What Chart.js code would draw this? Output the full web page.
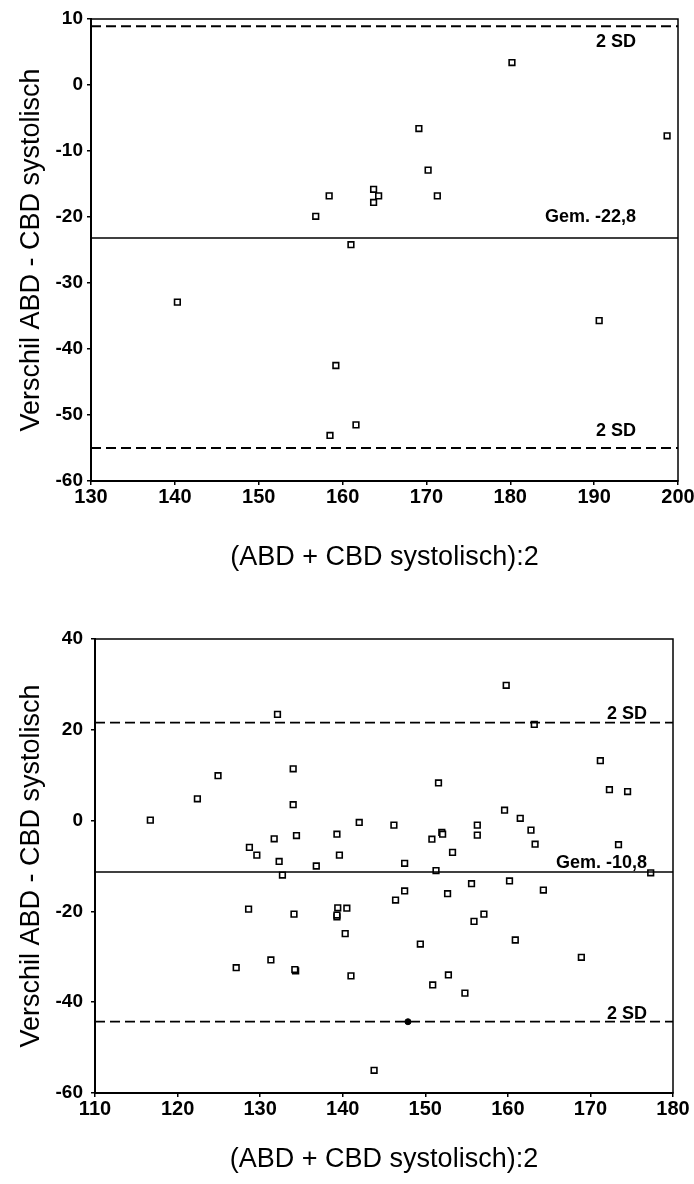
<!DOCTYPE html>
<html>
<head>
<meta charset="utf-8">
<script src="https://cdn.jsdelivr.net/npm/chart.js@4.4.1/dist/chart.umd.min.js"></script>
<style>
  body { margin: 0; background: #fff; }
  canvas { position: absolute; left: 0; }
</style>
</head>
<body>
<canvas id="chartTop" width="694" height="592" style="top:0"></canvas>
<canvas id="chartBottom" width="694" height="592" style="top:592px"></canvas>
<script>
// Top plot: mean of both readings vs. difference
const topMeans = [180.2, 169.1, 198.7, 170.2, 158.4, 163.7, 164.3, 163.7, 171.3, 156.8, 161.0, 140.3, 190.6, 159.2, 161.6, 158.5];
const topDiffs = [3.4, -6.6, -7.7, -12.9, -16.8, -15.8, -16.8, -17.8, -16.8, -19.9, -24.2, -32.9, -35.7, -42.5, -51.5, -53.1];
const topLimits = [8.9, -23.2, -55.0];          // +2 SD, mean, -2 SD
const topLimitLabels = ['2 SD', 'Gem. -22,8', '2 SD'];
const topXTicks = [130, 140, 150, 160, 170, 180, 190, 200];
const topYTicks = [-60, -50, -40, -30, -20, -10, 0, 10];

// Bottom plot
const bottomMeans = [159.8, 132.1, 163.2, 171.2, 134.0, 124.9, 151.6, 172.3, 174.5, 122.4, 134.0, 159.6, 116.7, 161.5,
  142.0, 146.2, 156.3, 162.8, 152.0, 152.1, 156.3, 134.4, 139.3, 131.7, 150.8, 163.3, 173.4, 128.7, 129.6, 139.6,
  153.3, 132.3, 147.5, 136.8, 151.3, 132.7, 177.3, 160.2, 155.6, 147.5, 164.3, 152.7, 146.4, 128.6, 134.1, 139.4,
  140.5, 139.3, 139.3, 157.1, 155.9, 140.3, 160.9, 149.4, 168.9, 131.3, 127.1, 134.3, 134.2, 152.8, 141.0, 150.9,
  154.8, 143.8];
const bottomDiffs = [29.8, 23.4, 21.2, 13.2, 11.4, 9.9, 8.3, 6.8, 6.4, 4.8, 3.5, 2.3, 0.1, 0.5,
  -0.4, -1.0, -1.0, -2.1, -2.6, -3.0, -3.2, -3.3, -3.0, -4.0, -4.1, -5.2, -5.3, -5.9, -7.6, -7.6,
  -7.0, -9.0, -9.4, -10.0, -11.0, -12.0, -11.5, -13.3, -13.9, -15.5, -15.3, -16.1, -17.5, -19.5, -20.6, -19.2,
  -19.3, -21.2, -20.8, -20.6, -22.2, -24.9, -26.3, -27.2, -30.1, -30.7, -32.4, -33.1, -32.8, -34.0, -34.2, -36.2,
  -38.0, -55.0];
const bottomFilledMeans = [147.9];
const bottomFilledDiffs = [-44.3];
const bottomLimits = [21.6, -11.3, -44.3];
const bottomLimitLabels = ['2 SD', 'Gem. -10,8', '2 SD'];
const bottomXTicks = [110, 120, 130, 140, 150, 160, 170, 180];
const bottomYTicks = [-60, -40, -20, 0, 20, 40];

const xTitle = '(ABD + CBD systolisch):2';
const yTitle = 'Verschil ABD - CBD systolisch';

Chart.defaults.font.family = "'Liberation Sans', Arial, sans-serif";
Chart.defaults.color = '#000';

function toPoints(xs, ys) {
  return xs.map((x, i) => ({ x: x, y: ys[i] }));
}

// frame + text next to the limit lines
const framePlugin = {
  id: 'frame',
  afterDatasetsDraw(chart, args, opts) {
    const { ctx, chartArea, scales } = chart;
    ctx.save();
    ctx.strokeStyle = '#000';
    ctx.lineWidth = 1.5;
    ctx.strokeRect(chartArea.left, chartArea.top, chartArea.right - chartArea.left, chartArea.bottom - chartArea.top);
    ctx.font = "bold 18px 'Liberation Sans', Arial, sans-serif";
    ctx.fillStyle = '#000';
    ctx.textAlign = 'right';
    opts.limits.forEach((v, i) => {
      const y = scales.y.getPixelForValue(v);
      const x = chartArea.right - opts.rightGap;
      if (opts.below[i]) {
        ctx.textBaseline = 'top';
        ctx.fillText(opts.labels[i], x, y + opts.shift[i]);
      } else {
        ctx.textBaseline = 'alphabetic';
        ctx.fillText(opts.labels[i], x, y - opts.shift[i]);
      }
    });
    ctx.restore();
  }
};

function makeChart(id, cfg) {
  const limitSets = cfg.limits.map((v, i) => ({
    type: 'line',
    data: [{ x: cfg.xTicks[0], y: v }, { x: cfg.xTicks[cfg.xTicks.length - 1], y: v }],
    borderColor: '#000',
    borderWidth: i === 1 ? 1.5 : 1.8,
    borderDash: i === 1 ? [] : [10, 5],
    pointRadius: 0
  }));
  const sets = [{
    type: 'scatter',
    data: toPoints(cfg.means, cfg.diffs),
    pointStyle: 'rect',
    pointRadius: 4,
    pointBorderWidth: 1.6,
    pointBorderColor: '#000',
    pointBackgroundColor: '#fff'
  }];
  if (cfg.filledMeans) {
    sets.push({
      type: 'scatter',
      data: toPoints(cfg.filledMeans, cfg.filledDiffs),
      pointStyle: 'circle',
      pointRadius: 3,
      pointBorderColor: '#000',
      pointBackgroundColor: '#000'
    });
  }
  return new Chart(document.getElementById(id), {
    type: 'scatter',
    data: { datasets: limitSets.concat(sets) },
    plugins: [framePlugin],
    options: {
      responsive: false,
      animation: false,
      layout: { padding: cfg.padding },
      plugins: {
        legend: { display: false },
        tooltip: { enabled: false },
        frame: { limits: cfg.limits, labels: cfg.limitLabels, rightGap: cfg.rightGap, below: cfg.below, shift: cfg.shift }
      },
      scales: {
        x: {
          type: 'linear',
          min: cfg.xTicks[0],
          max: cfg.xTicks[cfg.xTicks.length - 1],
          afterBuildTicks: s => { s.ticks = cfg.xTicks.map(v => ({ value: v })); },
          afterFit: s => { s.height = cfg.xHeight; s.paddingLeft = 0; s.paddingRight = 0; },
          grid: { drawOnChartArea: false, drawTicks: true, tickLength: 4, color: '#000', lineWidth: 1.5 },
          border: { display: true, color: '#000', width: 2 },
          ticks: { font: { size: 20, weight: 'bold' }, padding: 0, maxRotation: 0 },
          title: { display: true, text: xTitle, font: { size: 27 }, padding: { top: 0, bottom: cfg.xTitlePad } }
        },
        y: {
          type: 'linear',
          min: cfg.yTicks[0],
          max: cfg.yTicks[cfg.yTicks.length - 1],
          afterBuildTicks: s => { s.ticks = cfg.yTicks.map(v => ({ value: v })); },
          afterFit: s => { s.width = cfg.yWidth; s.paddingTop = 0; s.paddingBottom = 0; },
          grid: { drawOnChartArea: false, drawTicks: true, tickLength: 4, color: '#000', lineWidth: 1.5 },
          border: { display: true, color: '#000', width: 2 },
          ticks: { font: { size: 19, weight: 'bold' }, padding: cfg.yTickPad },
          title: { display: true, text: yTitle, font: { size: 27 }, padding: { top: 15, bottom: 0 } }
        }
      }
    }
  });
}

makeChart('chartTop', {
  means: topMeans, diffs: topDiffs,
  limits: topLimits, limitLabels: topLimitLabels,
  xTicks: topXTicks, yTicks: topYTicks,
  padding: { left: 0, top: 19, right: 16, bottom: 0 },
  xHeight: 111, yWidth: 91, xTitlePad: 18, yTickPad: 4,
  rightGap: 42, below: [true, false, false], shift: [7, 16, 12]
});

makeChart('chartBottom', {
  means: bottomMeans, diffs: bottomDiffs,
  filledMeans: bottomFilledMeans, filledDiffs: bottomFilledDiffs,
  limits: bottomLimits, limitLabels: bottomLimitLabels,
  xTicks: bottomXTicks, yTicks: bottomYTicks,
  padding: { left: 0, top: 47, right: 21, bottom: 0 },
  xHeight: 91, yWidth: 95, xTitlePad: 8, yTickPad: 8,
  rightGap: 26, below: [false, false, false], shift: [4, 4, 3]
});
</script>
</body>
</html>
